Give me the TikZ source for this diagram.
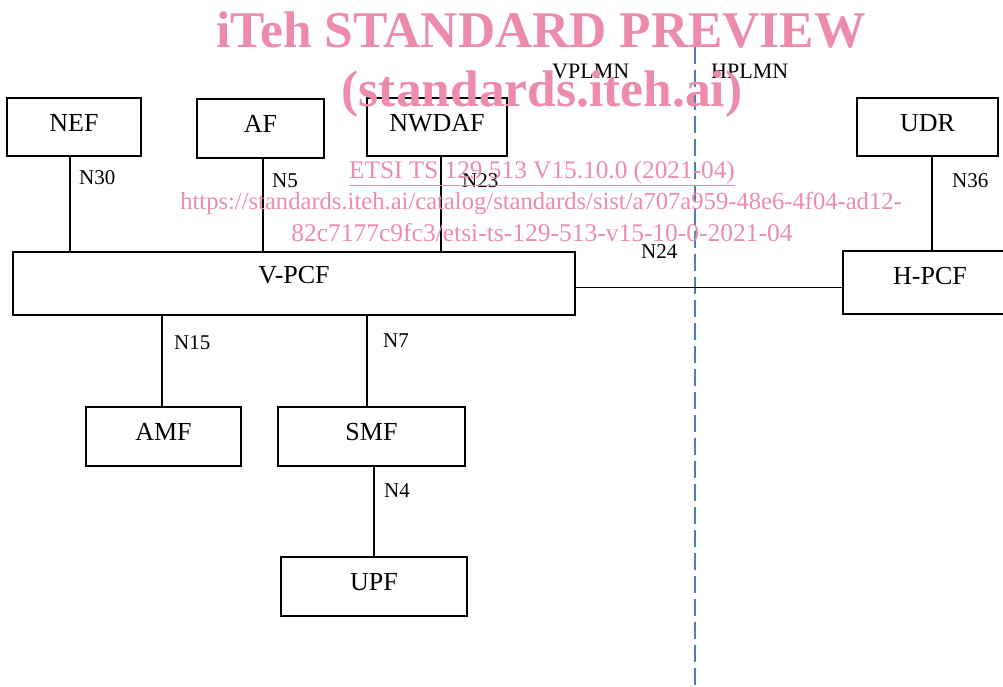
\documentclass[tikz,border=0pt]{standalone}
\usepackage{fontspec}
\setmainfont{Liberation Serif}
\usetikzlibrary{positioning, calc}
\definecolor{dashblue}{RGB}{74, 126, 193}
\definecolor{markpink}{RGB}{236, 140, 170}

\begin{document}
\begin{tikzpicture}[
            x=1pt, y=-1pt,
            box/.style={draw=black, line width=1.4pt, minimum height=58pt, inner sep=0pt, text depth=9pt, font=\fontsize{26}{30}\selectfont},
            link/.style={line width=1.3pt, black},
            iface/.style={anchor=base west, inner sep=0pt, font=\fontsize{21}{25}\selectfont},
            wmark/.style={anchor=base, inner sep=0pt, text=markpink}
        ]
            \useasboundingbox (0,0) rectangle (1003,686);

            % network functions
            \node[box, minimum width=134pt] (nef) at (74,127) {NEF};
            \node[box, minimum width=127pt, minimum height=59pt] (af) at (260.5,128.5) {AF};
            \node[box, minimum width=140pt] (nwdaf) at (437,127) {NWDAF};
            \node[box, minimum width=562pt, minimum height=63pt, text depth=18pt] (vpcf) at (294,283.5) {V-PCF};
            \node[box, minimum width=141pt] (udr) at (927.5,127) {UDR};
            \node[box, minimum width=174pt, minimum height=63pt, text depth=14pt] (hpcf) at (930,282.5) {H-PCF};
            \node[box, minimum width=155pt, minimum height=59pt] (amf) at (163.5,436.5) {AMF};
            \node[box, minimum width=187pt, minimum height=59pt] (smf) at (371.5,436.5) {SMF};
            \node[box, minimum width=186pt, minimum height=59pt] (upf) at (374,586.5) {UPF};

            % PLMN border
            \coordinate (bordertop) at (695,47);
            \coordinate (borderbot) at (695,686);
            \draw[dashblue, line width=2pt, dash pattern=on 17pt off 6pt] (bordertop) -- (borderbot);
            \node[iface, font=\fontsize{22}{26}\selectfont] (vplmn) at (552,78) {VPLMN};
            \node[iface, font=\fontsize{22}{26}\selectfont] (hplmn) at (711,78) {HPLMN};

            % reference points
            \draw[link] ([xshift=-4pt]nef.south) -- ([xshift=-4pt]nef.south |- vpcf.north);
            \draw[link] ([xshift=2.5pt]af.south) -- ([xshift=2.5pt]af.south |- vpcf.north);
            \draw[link] ([xshift=4pt]nwdaf.south) -- ([xshift=4pt]nwdaf.south |- vpcf.north);
            \draw[link] ([xshift=4.5pt]udr.south) -- ([xshift=4.5pt]udr.south |- hpcf.north);
            \draw[link] ([yshift=-4pt]vpcf.east) -- ([yshift=-4pt]vpcf.east -| hpcf.west);
            \draw[link] ([xshift=-1.5pt]amf.north) -- ([xshift=-1.5pt]amf.north |- vpcf.south);
            \draw[link] ([xshift=-4.5pt]smf.north) -- ([xshift=-4.5pt]smf.north |- vpcf.south);
            \draw[link] ([xshift=2.5pt]smf.south) -- ([xshift=2.5pt]smf.south |- upf.north);

            \node[iface] (n30) at (79,184) {N30};
            \node[iface] (n5) at (272,187) {N5};
            \node[iface] (n23) at (462,187) {N23};
            \node[iface] (n36) at (952,187) {N36};
            \node[iface] (n24) at (641,258) {N24};
            \node[iface] (n15) at (174,349) {N15};
            \node[iface] (n7) at (383,347) {N7};
            \node[iface] (n4) at (384,497) {N4};

            % preview watermark
            \node[wmark, font=\fontsize{51.5}{56}\bfseries] (wmtitle) at (541,47) {iTeh STANDARD PREVIEW};
            \node[wmark, font=\fontsize{51.5}{56}\bfseries] (wmsite) at (542,106) {(standards.iteh.ai)};
            \node[wmark, font=\fontsize{25.3}{30}\selectfont] (wmdoc) at (542,178) {\underline{ETSI TS 129 513 V15.10.0 (2021-04)}};
            \node[wmark, font=\fontsize{24.6}{30}\selectfont] (wmurla) at (541,209) {https://standards.iteh.ai/catalog/standards/sist/a707a959-48e6-4f04-ad12-};
            \node[wmark, font=\fontsize{25.5}{30}\selectfont] (wmurlb) at (542,241) {82c7177c9fc3/etsi-ts-129-513-v15-10-0-2021-04};
        \end{tikzpicture}
\end{document}
